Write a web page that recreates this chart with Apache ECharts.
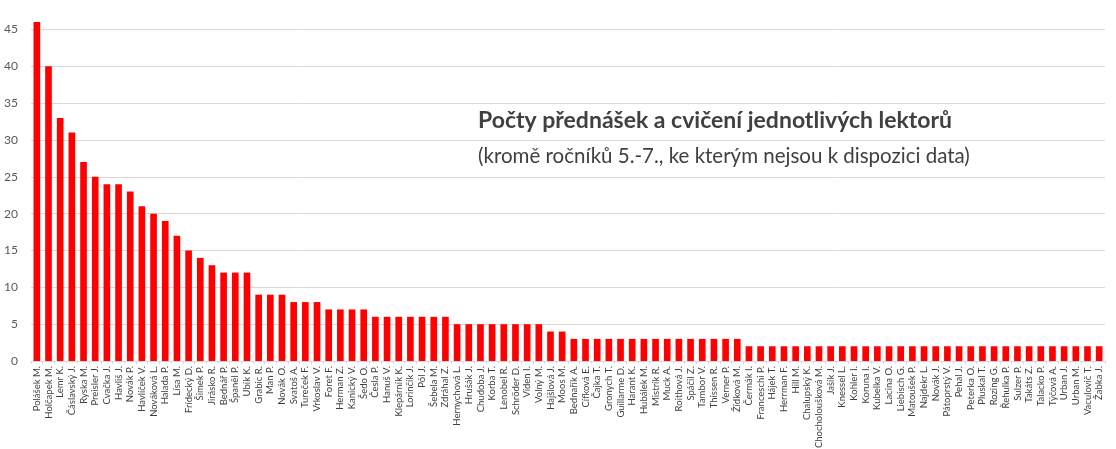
<!DOCTYPE html>
<html>
<head>
<meta charset="utf-8">
<script src="https://cdn.jsdelivr.net/npm/echarts@6/dist/echarts.min.js"></script>
<style>
html,body{margin:0;padding:0;background:#fff;}
#chart{width:1116px;height:449px;}
</style>
</head>
<body>
<div id="chart"></div>
<script>
const categories = ["Polášek M.","Holčapek M.","Lemr K.","Čáslavský J.","Ryska M.","Preisler J.","Cvačka J.","Havliš J.","Novák P.","Havlíček V.","Nováková L.","Halada P.","Lísa M.","Frídecký D.","Šimek P.","Jirásko R.","Bednář P.","Španěl P.","Ubík K.","Grabic R.","Man P.","Novák O.","Svatoš A.","Tureček F.","Vrkoslav V.","Foret F.","Herman Z.","Kanický V.","Šedo O.","Česla P.","Hanuš V.","Klepárník K.","Lorinčík J.","Pól J.","Šebela M.","Zdráhal Z.","Hernychová L.","Hrušák J.","Chudoba J.","Korba T.","Lenobel R.","Schröder D.","Víden I.","Volný M.","Hajšlová J.","Moos M.","Bednařík A.","Cífková E.","Čajka T.","Gronych T.","Guillarme D.","Harant K.","Hubálek M.","Mistrík R.","Muck A.","Roithová J.","Spáčil Z.","Tambor V.","Thissen R.","Verner P.","Žídková M.","Čermák I.","Franceschi P.","Hájek T.","Herrman F.","Hill M.","Chalupský K.","Chocholoušková M.","Jašík J.","Knessel L.","Kohler I.","Koruna I.","Kubelka V.","Lacina O.","Liebisch G.","Matoušek P.","Najdekr L.","Novák J.","Pátoprstý V.","Pehal J.","Peterka O.","Pluskal T.","Rozing G.","Řehulka P.","Sulzer P.","Takáts Z.","Talacko P.","Týčová A.","Urban J.","Urban M.","Vaculovič T.","Žabka J."];
const counts = [46,40,33,31,27,25,24,24,23,21,20,19,17,15,14,13,12,12,12,9,9,9,8,8,8,7,7,7,7,6,6,6,6,6,6,6,5,5,5,5,5,5,5,5,4,4,3,3,3,3,3,3,3,3,3,3,3,3,3,3,3,2,2,2,2,2,2,2,2,2,2,2,2,2,2,2,2,2,2,2,2,2,2,2,2,2,2,2,2,2,2,2];
const yMin = 0, yMax = 49, yStep = 5;
const titleText = "Počty přednášek a cvičení jednotlivých lektorů";
const subtitleText = "(kromě ročníků 5.-7., ke kterým nejsou k dispozici data)";

const chart = echarts.init(document.getElementById('chart'), null, {renderer:'canvas'});
chart.setOption({
  animation:false,
  backgroundColor:'#fff',
  grid:{left:31, right:11, top:0, bottom:88, containLabel:false, outerBoundsMode:'none'},
  xAxis:{
    type:'category', data:categories,
    axisLine:{lineStyle:{color:'#d9d9d9', width:1}},
    axisTick:{show:true, length:3, lineStyle:{color:'#d9d9d9'}},
    axisLabel:{rotate:90, interval:0, fontSize:9.5, color:'#404040', fontFamily:'Lato', margin:5}
  },
  yAxis:{
    type:'value', min:yMin, max:yMax, interval:yStep,
    axisLine:{show:false}, axisTick:{show:false},
    splitLine:{showMaxLine:false, lineStyle:{color:'#d9d9d9', width:1}},
    axisLabel:{showMaxLabel:false, fontSize:12, color:'#595959', fontFamily:'Lato', margin:13}
  },
  series:[{
    type:'bar', data:counts, barCategoryGap:'43%',
    itemStyle:{color:'#ff0000'}
  }],
  title:[
    {text:titleText, left:476, top:108, backgroundColor:'#fff', padding:[1,2],
     textStyle:{fontFamily:'Lato', fontWeight:'bold', fontSize:23, color:'#404040'}},
    {text:subtitleText, left:476, top:145, backgroundColor:'#fff', padding:[1,2],
     textStyle:{fontFamily:'Lato', fontWeight:'normal', fontSize:20.5, color:'#404040'}}
  ]
});
</script>
</body>
</html>
